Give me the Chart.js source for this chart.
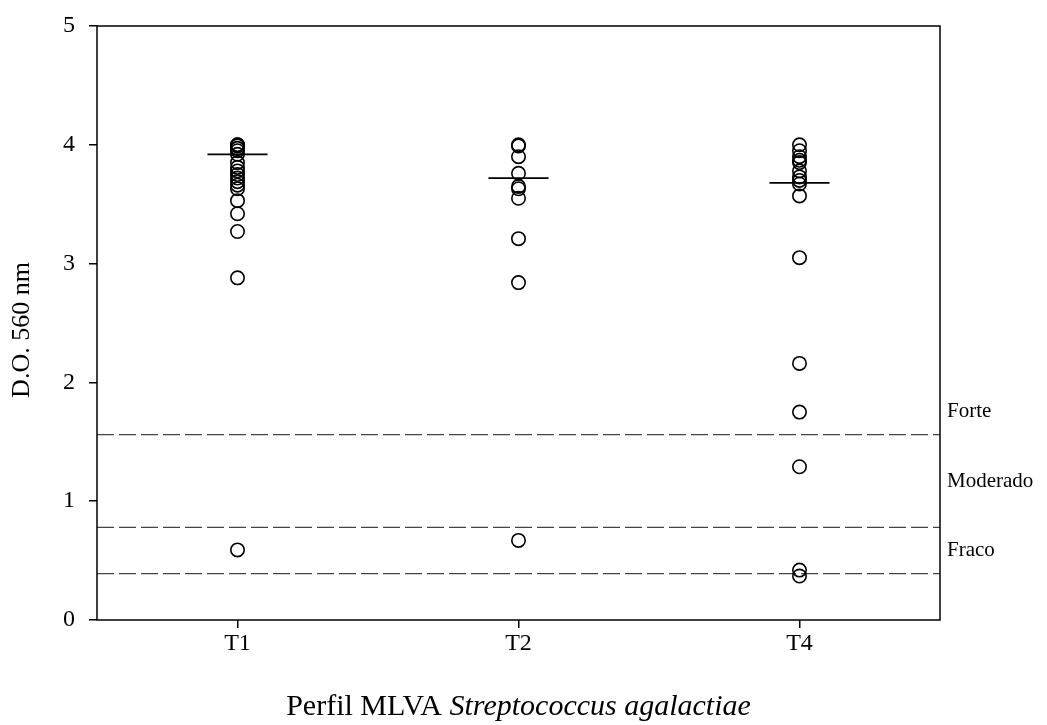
<!DOCTYPE html>
<html>
<head>
<meta charset="utf-8">
<script src="https://cdn.jsdelivr.net/npm/chart.js@4.4.1/dist/chart.umd.min.js"></script>
<style>
  html, body { margin: 0; padding: 0; background: #fff; }
  canvas { display: block; }
</style>
</head>
<body>
<canvas id="chart" width="1047" height="725"></canvas>
<script>
// MLVA profiles on the x axis
const categories = ['T1', 'T2', 'T4'];

// Optical density (560 nm) of each isolate, per profile
const valuesT1 = [4.00, 4.00, 3.99, 3.97, 3.95, 3.92, 3.85, 3.81, 3.78, 3.75, 3.72, 3.69, 3.66, 3.63, 3.53, 3.42, 3.27, 2.88, 0.59];
const valuesT2 = [4.00, 3.99, 3.90, 3.76, 3.65, 3.63, 3.55, 3.21, 2.84, 0.67];
const valuesT4 = [4.00, 3.95, 3.90, 3.87, 3.85, 3.78, 3.73, 3.70, 3.67, 3.57, 3.05, 2.16, 1.75, 1.29, 0.42, 0.37];

// Central value marked by a short horizontal bar for each profile
const medians = [3.92, 3.72, 3.68];

// Biofilm cut-offs (ODc, 2xODc, 4xODc) and the class names of the bands above them
const thresholds = [0.39, 0.78, 1.56];
const bandLabels = ['Fraco', 'Moderado', 'Forte'];

// y axis tick values
const yTicks = [0, 1, 2, 3, 4, 5];

const FONT = '"Liberation Serif", "Times New Roman", serif';
const BAR_HALF = 0.107;   // half width of the central bar, in category units

const groups = [valuesT1, valuesT2, valuesT4];

const pointSets = groups.map((vals, i) => ({
  type: 'scatter',
  data: vals.map(v => ({ x: i + 1, y: v })),
  pointStyle: 'circle',
  pointRadius: 6.7,
  pointHoverRadius: 6.7,
  pointBorderWidth: 1.6,
  pointBackgroundColor: 'rgba(0,0,0,0)',
  pointBorderColor: '#000',
  showLine: false,
  order: 1
}));

const medianSets = medians.map((m, i) => ({
  type: 'line',
  data: [{ x: i + 1 - BAR_HALF, y: m }, { x: i + 1 + BAR_HALF, y: m }],
  borderColor: '#000',
  borderWidth: 1.8,
  pointRadius: 0,
  order: 0
}));

const cutSets = thresholds.map(t => ({
  type: 'line',
  data: [{ x: 0.5, y: t }, { x: categories.length + 0.5, y: t }],
  borderColor: '#444',
  borderWidth: 1.2,
  borderDash: [17, 5],
  pointRadius: 0,
  order: 2
}));

const decorations = {
  id: 'decorations',
  afterDraw(chart) {
    const { ctx, chartArea: a, scales } = chart;
    const y = scales.y;
    ctx.save();

    // frame around the plotting area
    ctx.strokeStyle = '#000';
    ctx.lineWidth = 1.5;
    ctx.strokeRect(a.left, a.top, a.right - a.left, a.bottom - a.top);

    // class names beside the cut-off bands
    ctx.fillStyle = '#000';
    ctx.font = '21px ' + FONT;
    ctx.textAlign = 'left';
    ctx.textBaseline = 'middle';
    thresholds.forEach((lo, i) => {
      const hi = i + 1 < thresholds.length
        ? thresholds[i + 1]
        : lo + (lo - thresholds[i - 1]) / 2;
      ctx.fillText(bandLabels[i], a.right + 7, y.getPixelForValue((lo + hi) / 2));
    });

    // y axis title
    ctx.save();
    ctx.translate(22, 330);
    ctx.rotate(-Math.PI / 2);
    ctx.textAlign = 'center';
    ctx.font = '26px ' + FONT;
    ctx.fillText('D.O. 560 nm', 0, 0);
    ctx.restore();

    // x axis title, species name in italics
    const plain = 'Perfil MLVA ';
    const species = 'Streptococcus agalactiae';
    const size = 30;
    ctx.font = size + 'px ' + FONT;
    const w1 = ctx.measureText(plain).width;
    ctx.font = 'italic ' + size + 'px ' + FONT;
    const w2 = ctx.measureText(species).width;
    const x0 = (a.left + a.right) / 2 - (w1 + w2) / 2;
    ctx.textAlign = 'left';
    ctx.font = size + 'px ' + FONT;
    ctx.fillText(plain, x0, 707);
    ctx.font = 'italic ' + size + 'px ' + FONT;
    ctx.fillText(species, x0 + w1, 707);

    ctx.restore();
  }
};

new Chart(document.getElementById('chart'), {
  data: { datasets: [...cutSets, ...pointSets, ...medianSets] },
  options: {
    responsive: false,
    animation: false,
    layout: { padding: { left: 0, right: 107, top: 25, bottom: 0 } },
    plugins: { legend: { display: false }, tooltip: { enabled: false } },
    scales: {
      x: {
        type: 'linear',
        min: 0.5,
        max: categories.length + 0.5,
        afterBuildTicks: s => {
          s.ticks = categories.map((c, i) => ({ value: i + 1 }));
        },
        afterFit: s => { s.height = 105; },
        grid: { drawOnChartArea: false, drawTicks: true, tickLength: 8, color: '#000', lineWidth: 1.5 },
        border: { display: false },
        ticks: {
          color: '#000',
          padding: 1,
          font: { family: FONT, size: 24 },
          callback: v => categories[v - 1] ?? ''
        }
      },
      y: {
        type: 'linear',
        min: yTicks[0],
        max: yTicks[yTicks.length - 1],
        afterBuildTicks: s => { s.ticks = yTicks.map(v => ({ value: v })); },
        afterFit: s => { s.width = 97; },
        grid: { drawOnChartArea: false, drawTicks: true, tickLength: 8, color: '#000', lineWidth: 1.5 },
        border: { display: false },
        ticks: {
          color: '#000',
          padding: 14,
          font: { family: FONT, size: 24, lineHeight: 1 },
          callback: v => String(v)
        }
      }
    }
  },
  plugins: [decorations]
});
</script>
</body>
</html>
